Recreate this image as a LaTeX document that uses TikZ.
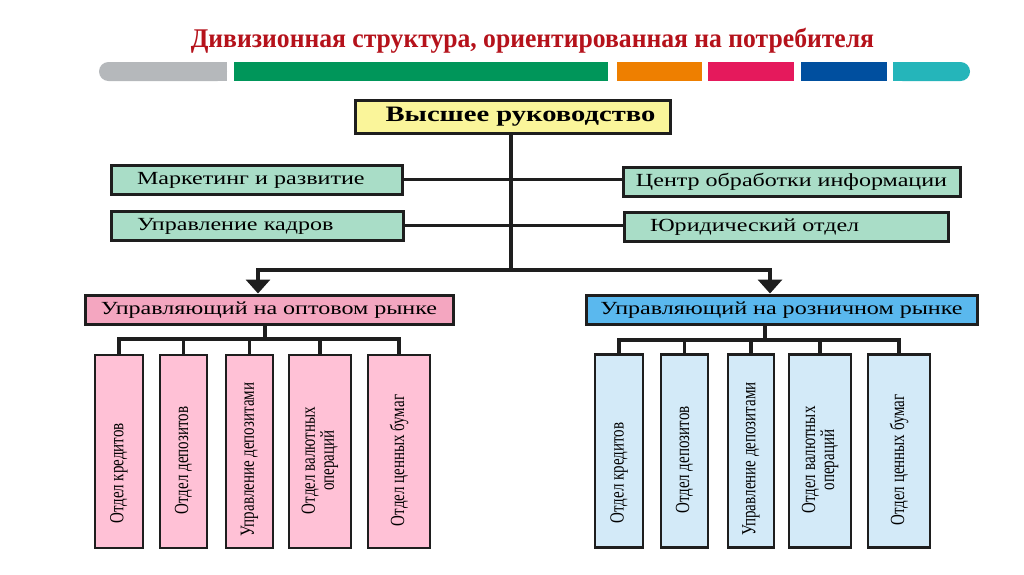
\documentclass[tikz,border=0pt]{standalone}
\usepackage{fontspec}
\setmainfont{Liberation Serif}
\newfontfamily\widefont[FakeStretch=1.3]{Liberation Serif}
\newfontfamily\narrowfont[FakeStretch=0.75]{Liberation Serif}
\newfontfamily\titlefont[FakeStretch=0.95]{Liberation Serif}
\usetikzlibrary{arrows.meta}
\definecolor{linec}{HTML}{1E1E1E}
\definecolor{titlered}{HTML}{B5121B}
\definecolor{cgray}{HTML}{B5B8BB}
\definecolor{cgreen}{HTML}{00965A}
\definecolor{corange}{HTML}{EE7F00}
\definecolor{cpink}{HTML}{E5195C}
\definecolor{cblue}{HTML}{004F9F}
\definecolor{cteal}{HTML}{25B5BA}
\definecolor{topfill}{HTML}{FAF59A}
\definecolor{mint}{HTML}{A9DDC7}
\definecolor{pinkhead}{HTML}{F4A6C0}
\definecolor{pinklight}{HTML}{FFC1D6}
\definecolor{bluehead}{HTML}{5AB8EE}
\definecolor{bluelight}{HTML}{D3EAF8}
\newcommand{\lowerby}[1]{\hspace*{#1}}
\begin{document}
\begin{tikzpicture}[x=1pt,y=-1pt,
  box/.style={draw=linec, line width=3pt, inner ysep=0pt, minimum height=29pt,
    text height=12pt, text depth=3pt,
    font=\widefont\fontsize{18.5}{20}\selectfont},
  leftbox/.style={box, fill=mint, align=left, inner xsep=26pt, text width=#1},
  headbox/.style={box, inner xsep=0pt, align=center},
  vbox/.style={draw=linec, line width=2.5pt, rotate=90, inner sep=0pt,
    minimum width=193pt, align=center,
    font=\narrowfont\fontsize{20}{19}\selectfont},
  conn/.style={draw=linec, line width=3.5pt},
  arr/.style={conn, -{Triangle[width=24pt,length=14pt]}}]
\useasboundingbox[fill=white] (0,0) rectangle (1024,574);

% title
\node[anchor=base, text=titlered, font=\titlefont\bfseries\fontsize{27}{30}\selectfont]
  (title) at (532.5,47) {Дивизионная структура, ориентированная на потребителя};

% colour bar
\fill[cgray, rounded corners=9.5pt] (99,62) rectangle (227,81);
\fill[cgray] (210,62) rectangle (227,81);
\fill[cgreen] (234,62) rectangle (608,81);
\fill[corange] (617,62) rectangle (702,81);
\fill[cpink] (708,62) rectangle (794,81);
\fill[cblue] (801,62) rectangle (887,81);
\fill[cteal, rounded corners=9.5pt] (893,62) rectangle (970,81);
\fill[cteal] (893,62) rectangle (910,81);

% top
\node[headbox, fill=topfill, minimum width=315pt, minimum height=33pt,
  text height=14pt, text depth=4pt,
  font=\widefont\bfseries\fontsize{22}{24}\selectfont] (top) at (512.5,116.5) {\hspace*{16pt}Высшее руководство};

% staff boxes
\node[leftbox=239pt] (mark) at (256.5,179.5) {Маркетинг и развитие};
\node[leftbox=240pt] (hr) at (257,225.5) {Управление кадров};
\node[headbox, fill=mint, minimum width=337pt] (ctr) at (791.5,181.5) {Центр обработки информации};
\node[leftbox=272pt] (law) at (786,227) {Юридический отдел};

% division heads
\node[headbox, fill=pinkhead, minimum width=368pt] (opt) at (269,309.5) {Управляющий на оптовом рынке};
\node[headbox, fill=bluehead, minimum width=391pt] (ret) at (781.5,309.5) {Управляющий на розничном рынке};

% left departments
\node[vbox, fill=pinklight, minimum height=48pt] (l1) at (119,451.5) {Отдел кредитов\lowerby{44pt}};
\node[vbox, fill=pinklight, minimum height=47pt] (l2) at (183.5,451.5) {Отдел депозитов\lowerby{18pt}};
\node[vbox, fill=pinklight, minimum height=47pt] (l3) at (249.5,451.5) {Управление депозитами\lowerby{16pt}};
\node[vbox, fill=pinklight, minimum height=62pt] (l4) at (320,451.5) {Отдел валютных\lowerby{18pt}\\операций\lowerby{18pt}};
\node[vbox, fill=pinklight, minimum height=62pt] (l5) at (399,451.5) {Отдел ценных бумаг\lowerby{18pt}};

% right departments
\node[vbox, fill=bluelight, minimum height=48pt] (r1) at (619,451) {Отдел кредитов\lowerby{44pt}};
\node[vbox, fill=bluelight, minimum height=47pt] (r2) at (684.5,451) {Отдел депозитов\lowerby{18pt}};
\node[vbox, fill=bluelight, minimum height=46pt] (r3) at (751,451) {Управление депозитами\lowerby{16pt}};
\node[vbox, fill=bluelight, minimum height=62pt] (r4) at (820,451) {Отдел валютных\lowerby{18pt}\\операций\lowerby{18pt}};
\node[vbox, fill=bluelight, minimum height=62pt] (r5) at (899,451) {Отдел ценных бумаг\lowerby{18pt}};

% connectors
\coordinate (hub) at (511,270);
\draw[conn] (top.south -| hub) -- (hub);
\draw[conn] (mark.east) -- (mark.east -| ctr.west);
\draw[conn] (hr.east) -- (hr.east -| law.west);
\draw[conn] (258,270) -- (770,270);
\draw[arr] (258,268.25) -- ([xshift=-11pt]opt.north);
\draw[arr] (770,268.25) -- ([xshift=-11.5pt]ret.north);

\coordinate (ob) at (265,339);
\draw[conn] ([xshift=-4pt]opt.south) -- (ob);
\foreach \n in {l1,l2,l3,l4,l5} \draw[conn] (\n.east) |- (ob);
\coordinate (rb) at (765,340);
\draw[conn] ([xshift=-16.5pt]ret.south) -- (rb);
\foreach \n in {r1,r2,r3,r4,r5} \draw[conn] (\n.east) |- (rb);
\end{tikzpicture}
\end{document}
